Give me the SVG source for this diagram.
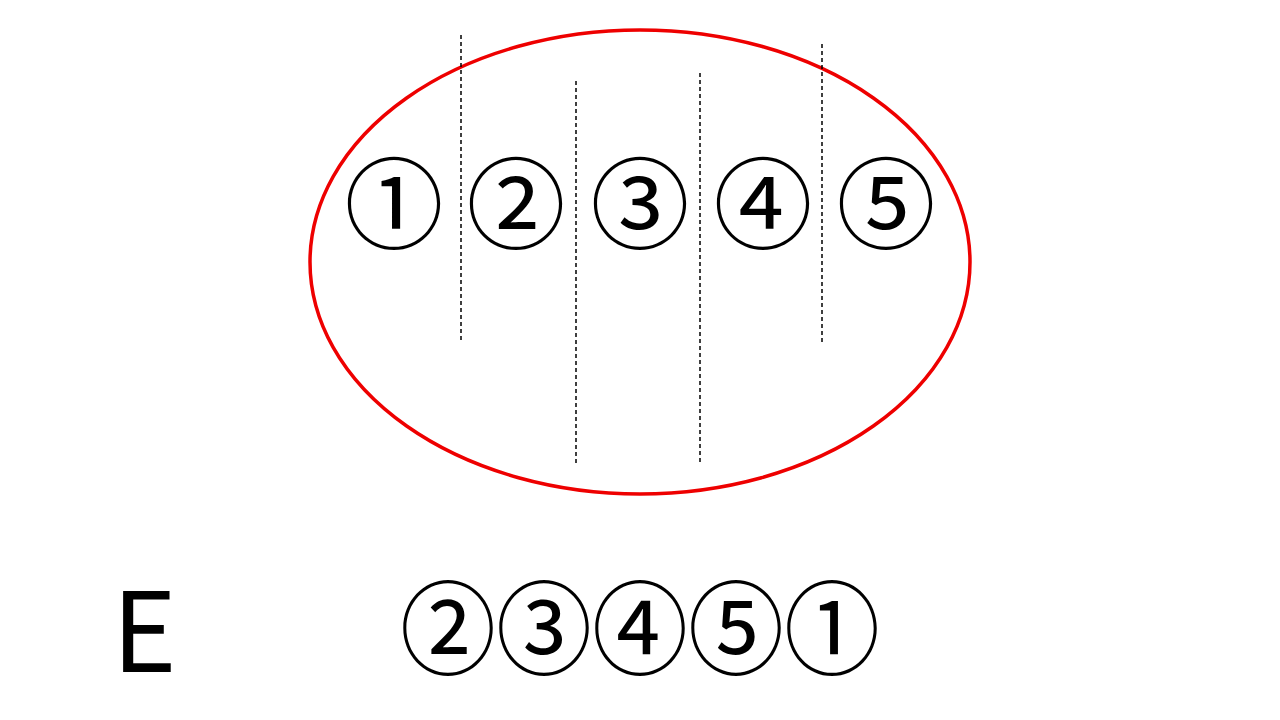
<svg xmlns="http://www.w3.org/2000/svg" width="1280" height="720" viewBox="0 0 1280 720">
<style>
.c{font-family:"Noto Sans CJK JP","Noto Sans",sans-serif;font-size:99px;fill:#000;text-anchor:middle}
.b{font-size:96px}
.d{stroke:#000;stroke-width:1.5;stroke-dasharray:4 3;fill:none}
</style>
<rect width="1280" height="720" fill="#fff"/>
<g id="ellipse"><ellipse cx="640" cy="262" rx="330" ry="232" fill="none" stroke="#ee0000" stroke-width="3.5"/></g>
<g id="connectors">
<line class="d" x1="461" y1="35" x2="461" y2="342"/>
<line class="d" x1="576" y1="81" x2="576" y2="466"/>
<line class="d" x1="700" y1="73" x2="700" y2="464"/>
<line class="d" x1="822" y1="44" x2="822" y2="342"/>
</g>
<g id="n1"><text class="c" x="394" y="241">①</text></g>
<g id="n2"><text class="c" x="516" y="241">②</text></g>
<g id="n3"><text class="c" x="640" y="241">③</text></g>
<g id="n4"><text class="c" x="763" y="241">④</text></g>
<g id="n5"><text class="c" x="886" y="241">⑤</text></g>
<g id="label"><text x="112" y="672" style="font-family:'Noto Sans CJK JP','Noto Sans',sans-serif;font-size:110px;fill:#000">E</text></g>
<g id="answer"><text class="c b" x="640" y="667" transform="translate(0,-40) scale(1,1.06)">②③④⑤①</text></g>
</svg>
